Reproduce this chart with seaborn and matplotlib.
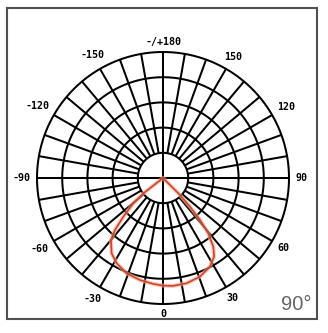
import numpy as np
import pandas as pd
import matplotlib
matplotlib.use("Agg")
import matplotlib.pyplot as plt
import seaborn as sns
from matplotlib.patches import Rectangle

# ---- data ----
curve_angles = [-55, -52, -49.6, -45.7, -42.7, -40, -34.3, -28.5, -20.9, -12.7, -5.3,
                0, 5.4, 12.7, 20.5, 27.9, 33, 36.2, 39.3, 41.4, 43.3, 45, 50]
curve_values = [0.0, 0.99, 1.55, 2.2, 2.81, 3.21, 3.62, 3.85, 4.05, 4.15, 4.22,
                4.27, 4.3, 4.28, 4.18, 3.98, 3.72, 3.38, 2.84, 2.22, 1.56, 0.95, 0.0]
ring_values = [1, 2, 3, 4, 5]
spoke_step = 10
label_angles = [0, 30, 60, 90, 120, 150, 180, -150, -120, -90, -60, -30]
label_texts = ["0", "30", "60", "90", "120", "150", "-/+180", "-150", "-120", "-90", "-60", "-30"]
corner_text = "90°"

W, H = 328, 333
DPI = 100
sns.set_theme(style="white")
fig = plt.figure(figsize=(W / DPI, H / DPI), dpi=DPI)
fig.patch.set_facecolor("white")

cx, cy, R = 163, 178, 126
ax = fig.add_axes([(cx - R) / W, (H - cy - R) / H, 2 * R / W, 2 * R / H], projection="polar")
ax.set_theta_zero_location("S")
ax.set_theta_direction(1)
rmax = ring_values[-1]
ax.set_ylim(0, rmax)
ax.axis("off")

lw = 1.45
# rings
th_full = np.linspace(0, 2 * np.pi, 361)
for rv in ring_values:
    ax.plot(th_full, np.full_like(th_full, rv), color="black", lw=lw, clip_on=False, zorder=2)
# spokes
for a in range(0, 360, spoke_step):
    t = np.deg2rad(a)
    r0 = 0 if a % 90 == 0 else ring_values[0]
    ax.plot([t, t], [r0, rmax], color="black", lw=lw, clip_on=False, zorder=2,
            solid_capstyle="butt")

# curve
df = pd.DataFrame({"theta": np.deg2rad(curve_angles), "r": curve_values})
sns.lineplot(data=df, x="theta", y="r", sort=False, estimator=None, ax=ax,
             color="#f2a58e", lw=3.0, alpha=0.6, zorder=3)
sns.lineplot(data=df, x="theta", y="r", sort=False, estimator=None, ax=ax,
             color="#c8462e", lw=1.2, zorder=4)
ax.set_ylim(0, rmax)
ax.axis("off")

# labels
px_per_unit = R / rmax
char_w, half_h, gap = 3.0, 3.5, 6.5
for a, txt in zip(label_angles, label_texts):
    t = np.deg2rad(a)
    d = gap + char_w * len(txt) * abs(np.sin(t)) + half_h * abs(np.cos(t))
    ax.text(t, rmax + d / px_per_unit, txt, ha="center", va="center",
            fontsize=7.2, fontweight="bold", family="DejaVu Sans Mono", color="black",
            clip_on=False)

fig.text(312 / W, 1 - 305 / H, corner_text, ha="right", va="center", fontsize=14.5,
         family="Liberation Sans", color="#666666")

fig.patches.append(Rectangle((7 / W, 1 - 319 / H), (317 - 7) / W, (319 - 8) / H,
                             transform=fig.transFigure, fill=False,
                             edgecolor="#505050", lw=1.5))

fig.savefig("out.png", dpi=DPI, facecolor="white")
